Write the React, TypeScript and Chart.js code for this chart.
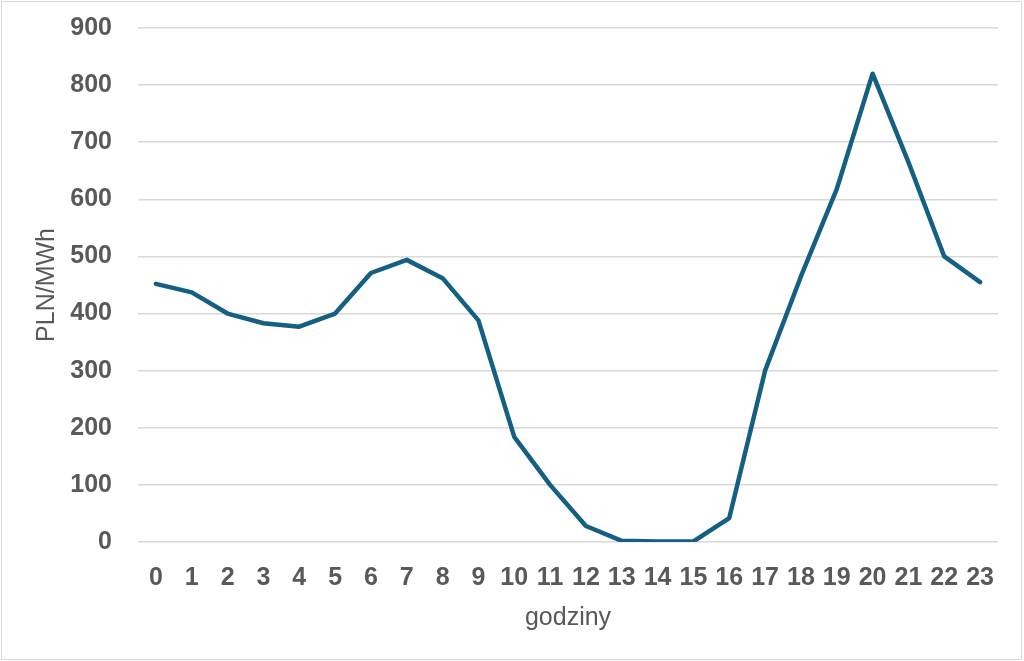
import React, { useEffect, useRef } from "react";
import { Chart, registerables } from "chart.js";

Chart.register(...registerables);

const hours: string[] = [
  "0", "1", "2", "3", "4", "5", "6", "7", "8", "9", "10", "11",
  "12", "13", "14", "15", "16", "17", "18", "19", "20", "21", "22", "23",
];
const prices: number[] = [
  452, 437, 400, 383, 377, 400, 471, 494, 462, 388, 184, 100,
  28, 2, 1, 1, 42, 300, 465, 618, 820, 665, 500, 455,
];
const yTicks: number[] = [0, 100, 200, 300, 400, 500, 600, 700, 800, 900];
const yTitle = "PLN/MWh";
const xTitle = "godziny";

const W = 1024;
const H = 661;
const FONT = "'Liberation Sans', Arial, sans-serif";
const GREY = "#595959";

export default function App() {
  const ref = useRef<HTMLCanvasElement | null>(null);

  useEffect(() => {
    document.body.style.margin = "0";
    const canvas = ref.current;
    if (!canvas) return;
    const chart = new Chart(canvas, {
      type: "line",
      data: {
        labels: hours,
        datasets: [
          {
            data: prices,
            borderColor: "#156082",
            borderWidth: 4.5,
            pointRadius: 0,
            tension: 0,
            fill: false,
            borderJoinStyle: "round",
            borderCapStyle: "round",
          },
        ],
      },
      options: {
        animation: false,
        responsive: false,
        maintainAspectRatio: false,
        layout: { padding: { left: 20, right: 26, top: 28, bottom: 0 } },
        plugins: { legend: { display: false }, tooltip: { enabled: false } },
        scales: {
          x: {
            offset: true,
            grid: { display: false, drawTicks: false },
            border: { display: false },
            ticks: {
              autoSkip: false,
              maxRotation: 0,
              padding: 21,
              color: GREY,
              font: { family: FONT, size: 25, weight: "bold" },
            },
            title: {
              display: true,
              text: xTitle,
              color: GREY,
              font: { family: FONT, size: 25 },
              padding: { top: 0, bottom: 28 },
            },
            afterFit: (s: any) => {
              s.height = H - 542;
            },
          },
          y: {
            min: 0,
            max: 900,
            afterBuildTicks: (s: any) => {
              s.ticks = yTicks.map((v) => ({ value: v }));
            },
            grid: { color: "#d9d9d9", lineWidth: 1.5, drawTicks: false },
            border: { display: false },
            ticks: {
              padding: 26,
              color: GREY,
              font: { family: FONT, size: 25, weight: "bold" },
            },
            title: {
              display: true,
              text: yTitle,
              color: GREY,
              font: { family: FONT, size: 25 },
              padding: { top: 12, bottom: 0 },
            },
            afterFit: (s: any) => {
              s.width = 138 - 20;
              s.paddingTop = 0;
              s.paddingBottom = 0;
            },
          },
        },
      },
    });
    return () => chart.destroy();
  }, []);

  return (
    <div style={{ position: "relative", width: W, height: H, background: "#fff" }}>
      <canvas ref={ref} width={W} height={H} style={{ position: "absolute", left: 0, top: 0, width: W, height: H }} />
      <div
        style={{
          position: "absolute",
          left: 1,
          top: 1,
          width: W - 3,
          height: H - 2,
          boxSizing: "border-box",
          border: "1.5px solid #d9d9d9",
          pointerEvents: "none",
        }}
      />
    </div>
  );
}
